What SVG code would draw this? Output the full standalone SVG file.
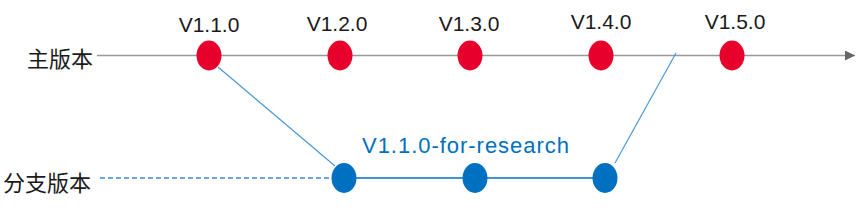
<svg xmlns="http://www.w3.org/2000/svg" width="865" height="215" viewBox="0 0 865 215">
<style>
.lbl{font-family:"Liberation Sans",Arial,sans-serif;font-size:21px;fill:#1a1a1a;text-anchor:middle}
.cjk{font-family:"Noto Sans CJK SC","Liberation Sans",sans-serif;font-size:22px;fill:#1a1a1a}
.red{fill:#E8002D}
.blue{fill:#0070C0}
.br{stroke:#4A98D8;stroke-width:1.2;fill:none}
</style>
<defs>
<marker id="arr" markerWidth="10" markerHeight="10" refX="10" refY="5" orient="auto" markerUnits="userSpaceOnUse">
<path d="M0,0 L10,5 L0,10 Z" fill="#666"/>
</marker>
</defs>
<text class="cjk" x="27" y="67">主版本</text>
<text class="cjk" x="3" y="191">分支版本</text>
<g id="connectors">
<line x1="97" y1="55.5" x2="855" y2="55.5" stroke="#999" stroke-width="1.5" marker-end="url(#arr)"/>
<line x1="100" y1="178" x2="334" y2="178" stroke="#3C8DD5" stroke-width="1.3" stroke-dasharray="5,3"/>
<line x1="344" y1="178" x2="605" y2="178" stroke="#0070C0" stroke-width="1.3"/>
<line x1="218" y1="67" x2="335" y2="166" class="br"/>
<line x1="615" y1="163" x2="676" y2="53" class="br"/>
</g>
<g id="v110"><ellipse class="red" cx="209" cy="55.5" rx="12.5" ry="15"/><text class="lbl" x="209" y="32">V1.1.0</text></g>
<g id="v120"><ellipse class="red" cx="340" cy="55.5" rx="12.5" ry="15"/><text class="lbl" x="337" y="31">V1.2.0</text></g>
<g id="v130"><ellipse class="red" cx="470" cy="55.5" rx="12.5" ry="15"/><text class="lbl" x="469" y="30.5">V1.3.0</text></g>
<g id="v140"><ellipse class="red" cx="601" cy="55.5" rx="12.5" ry="15"/><text class="lbl" x="601" y="29">V1.4.0</text></g>
<g id="v150"><ellipse class="red" cx="732" cy="55.5" rx="12.5" ry="15"/><text class="lbl" x="735" y="28.5">V1.5.0</text></g>
<g id="b1"><ellipse class="blue" cx="344" cy="178" rx="12.5" ry="15"/></g>
<g id="b2"><ellipse class="blue" cx="475" cy="178" rx="12.5" ry="15"/></g>
<g id="b3"><ellipse class="blue" cx="605" cy="178" rx="12.5" ry="15"/></g>
<text x="362" y="153" font-family="Liberation Sans, Arial, sans-serif" font-size="22" fill="#0070C0" textLength="207" lengthAdjust="spacing">V1.1.0-for-research</text>
</svg>
